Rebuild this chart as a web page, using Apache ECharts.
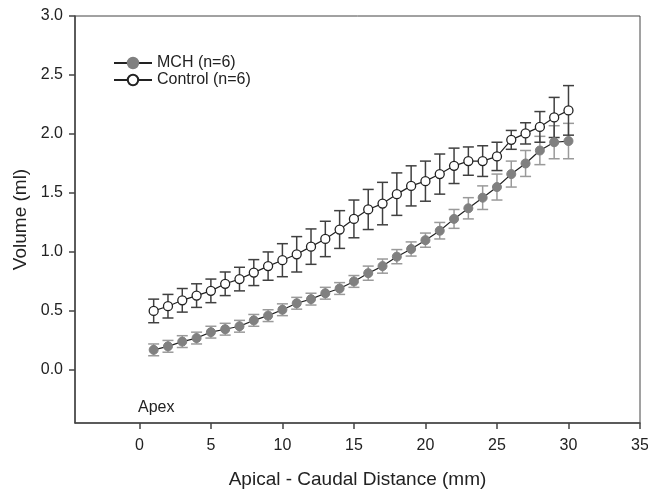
<!DOCTYPE html>
<html>
<head>
<meta charset="utf-8">
<script src="https://cdn.jsdelivr.net/npm/echarts@6/dist/echarts.min.js"></script>
<style>
  html, body { margin: 0; padding: 0; background: #fff; }
  #chart { width: 648px; height: 490px; }
</style>
</head>
<body>
<div id="chart"></div>
<script>
// distance from apex (mm)
const distance = [1,2,3,4,5,6,7,8,9,10,11,12,13,14,15,16,17,18,19,20,21,22,23,24,25,26,27,28,29,30];
const mch = [0.17,0.20,0.24,0.27,0.32,0.345,0.37,0.42,0.46,0.51,0.565,0.60,0.65,0.69,0.75,0.82,0.88,0.96,1.025,1.10,1.18,1.28,1.37,1.46,1.55,1.66,1.75,1.86,1.93,1.94];
const mchErr = [0.05,0.05,0.05,0.05,0.05,0.05,0.05,0.05,0.05,0.05,0.05,0.05,0.05,0.05,0.05,0.06,0.06,0.06,0.06,0.06,0.07,0.08,0.09,0.10,0.11,0.11,0.11,0.12,0.14,0.15];
const control = [0.50,0.54,0.59,0.63,0.67,0.73,0.77,0.825,0.88,0.93,0.98,1.045,1.11,1.19,1.28,1.36,1.41,1.49,1.56,1.60,1.66,1.73,1.77,1.77,1.81,1.95,2.005,2.06,2.14,2.20];
const controlErr = [0.10,0.10,0.10,0.10,0.10,0.10,0.10,0.11,0.12,0.14,0.15,0.15,0.15,0.16,0.16,0.17,0.18,0.18,0.17,0.17,0.17,0.15,0.12,0.13,0.12,0.08,0.09,0.13,0.17,0.21];
const xTicks = [0,5,10,15,20,25,30,35];
const yTicks = [0,0.5,1.0,1.5,2.0,2.5,3.0];

const font = "Liberation Sans, Arial, sans-serif";

function errData(vals, errs) {
  return distance.map((d, i) => [d, vals[i] - errs[i], vals[i] + errs[i]]);
}

function errSeries(name, vals, errs, color) {
  return {
    name: name + " err",
    type: "custom",
    z: 1,
    silent: true,
    data: errData(vals, errs),
    renderItem: function (params, api) {
      const lo = api.coord([api.value(0), api.value(1)]);
      const hi = api.coord([api.value(0), api.value(2)]);
      const w = 5.5;
      const style = { stroke: color, lineWidth: 1.5 };
      return {
        type: "group",
        children: [
          { type: "line", shape: { x1: lo[0], y1: lo[1], x2: hi[0], y2: hi[1] }, style: style },
          { type: "line", shape: { x1: lo[0] - w, y1: lo[1], x2: lo[0] + w, y2: lo[1] }, style: style },
          { type: "line", shape: { x1: hi[0] - w, y1: hi[1], x2: hi[0] + w, y2: hi[1] }, style: style },
        ],
      };
    },
  };
}

const option = {
  animation: false,
  backgroundColor: "#fff",
  grid: {
    left: 75,
    right: 8,
    top: 16,
    bottom: 67,
    outerBoundsMode: "none",
    containLabel: false,
    show: true,
    borderColor: "#444",
    borderWidth: 1,
  },
  legend: {
    orient: "vertical",
    left: 108,
    top: 50,
    itemWidth: 38,
    itemHeight: 13,
    itemGap: 1,
    textStyle: { fontFamily: font, fontSize: 16, color: "#222" },
    data: ["MCH (n=6)", "Control (n=6)"],
  },
  xAxis: {
    type: "value",
    min: -4.5,
    max: 35,
    name: "Apical - Caudal Distance (mm)",
    nameLocation: "middle",
    nameGap: 47,
    nameTextStyle: { fontFamily: font, fontSize: 19, color: "#222" },
    axisLine: { show: true, onZero: false, lineStyle: { color: "#444", width: 1.5 } },
    axisTick: { show: true, length: 6, customValues: xTicks, lineStyle: { color: "#444", width: 1.5 } },
    axisLabel: { customValues: xTicks, margin: 15, fontFamily: font, fontSize: 16, color: "#222" },
    splitLine: { show: false },
  },
  yAxis: {
    type: "value",
    min: -0.45,
    max: 3.0,
    name: "Volume (ml)",
    nameLocation: "middle",
    nameGap: 44,
    nameTextStyle: { fontFamily: font, fontSize: 19, color: "#222" },
    axisLine: { show: true, onZero: false, lineStyle: { color: "#444", width: 1.5 } },
    axisTick: { show: true, length: 6, customValues: yTicks, lineStyle: { color: "#444", width: 1.5 } },
    axisLabel: {
      customValues: yTicks,
      margin: 12,
      fontFamily: font,
      fontSize: 16,
      color: "#222",
      formatter: (v) => v.toFixed(1),
    },
    splitLine: { show: false },
  },
  graphic: [
    {
      type: "text",
      left: 138,
      top: 400,
      style: { text: "Apex", font: "16px " + font, fill: "#222" },
    },
  ],
  series: [
    errSeries("MCH", mch, mchErr, "#9a9a9a"),
    errSeries("Control", control, controlErr, "#404040"),
    {
      name: "MCH (n=6)",
      type: "line",
      z: 3,
      data: distance.map((d, i) => [d, mch[i]]),
      symbol: "circle",
      symbolSize: 9,
      itemStyle: { color: "#808080", borderColor: "#808080", borderWidth: 1 },
      lineStyle: { color: "#222", width: 1.2 },
    },
    {
      name: "Control (n=6)",
      type: "line",
      z: 3,
      data: distance.map((d, i) => [d, control[i]]),
      symbol: "circle",
      symbolSize: 9,
      itemStyle: { color: "#fff", borderColor: "#222", borderWidth: 1.3 },
      lineStyle: { color: "#222", width: 1.2 },
    },
  ],
};

const myChart = echarts.init(document.getElementById("chart"));
myChart.setOption(option);
window.onresize = myChart.resize;
</script>
</body>
</html>
